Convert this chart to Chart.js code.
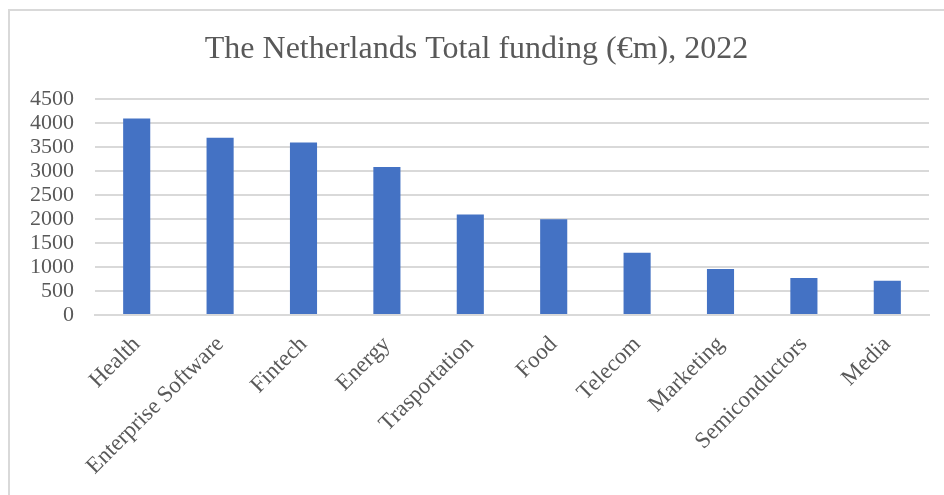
<!DOCTYPE html>
<html>
<head>
<meta charset="utf-8">
<script src="https://cdn.jsdelivr.net/npm/chart.js@4.4.0/dist/chart.umd.min.js"></script>
<style>
  html, body { margin: 0; padding: 0; background: #fff; }
  #wrap { position: relative; width: 944px; height: 495px; }
  #frame { position: absolute; left: 8px; top: 9px; right: -4px; bottom: -4px;
           border-left: 2px solid #d9d9d9; border-top: 2px solid #d9d9d9; pointer-events: none; }
</style>
</head>
<body>
<div id="wrap">
  <canvas id="myChart" width="944" height="495"></canvas>
  <div id="frame"></div>
</div>
<script>
// data
const sectors = ['Health', 'Enterprise Software', 'Fintech', 'Energy', 'Trasportation',
                 'Food', 'Telecom', 'Marketing', 'Semiconductors', 'Media'];
const funding = [4100, 3700, 3600, 3090, 2100, 2000, 1300, 960, 770, 715];
const yTicks = [0, 500, 1000, 1500, 2000, 2500, 3000, 3500, 4000, 4500];

const serif = '"Liberation Serif", "Times New Roman", serif';

const ctx = document.getElementById('myChart');
new Chart(ctx, {
  type: 'bar',
  data: {
    labels: sectors,
    datasets: [{
      label: 'Total funding',
      data: funding,
      backgroundColor: '#4472C4',
      borderWidth: 0,
      barPercentage: 0.325,
      categoryPercentage: 1
    }]
  },
  options: {
    responsive: false,
    animation: false,
    devicePixelRatio: 1,
    layout: { padding: { left: 24, right: 15, top: 0, bottom: 0 } },
    plugins: {
      legend: { display: false },
      tooltip: { enabled: false },
      title: {
        display: true,
        text: 'The Netherlands Total funding (€m), 2022',
        color: '#595959',
        font: { family: serif, size: 32, weight: 'normal' },
        padding: { top: 30, bottom: 31 }
      }
    },
    scales: {
      x: {
        grid: { display: false },
        border: { display: true, color: '#d9d9d9', width: 2 },
        ticks: {
          color: '#595959',
          font: { family: serif, size: 23 },
          maxRotation: 45,
          minRotation: 45,
          autoSkip: false,
          padding: 8
        },
        afterFit: function (scale) { scale.height = 180; }
      },
      y: {
        min: 0,
        max: 4500,
        afterBuildTicks: function (scale) { scale.ticks = yTicks.map(v => ({ value: v })); },
        grid: { color: '#d9d9d9', lineWidth: 2, drawTicks: false },
        border: { display: false },
        ticks: {
          color: '#595959',
          font: { family: serif, size: 22 },
          padding: 21,
          autoSkip: false,
          callback: function (v) { return String(v); }
        },
        afterFit: function (scale) { scale.width = 71; }
      }
    }
  }
});
</script>
</body>
</html>
